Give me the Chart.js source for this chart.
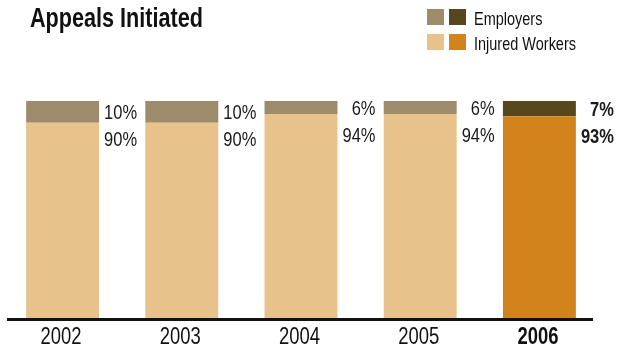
<!DOCTYPE html>
<html>
<head>
<meta charset="utf-8">
<title>Appeals Initiated</title>
<script src="https://cdn.jsdelivr.net/npm/chart.js@4.4.0/dist/chart.umd.min.js"></script>
<style>
  body { margin: 0; background: #ffffff; }
  #wrap { width: 618px; height: 353px; }
</style>
</head>
<body>
<div id="wrap"><canvas id="appealsChart" width="618" height="353"></canvas></div>
<script>
  // data
  var years = ['2002', '2003', '2004', '2005', '2006']
  var employers = [10, 10, 6, 6, 7]
  var injuredWorkers = [90, 90, 94, 94, 93]

  var FONT = "'Liberation Sans', Arial, sans-serif"

  // last year is highlighted with darker colours
  var employerColors = ['#9e8b6c', '#9e8b6c', '#9e8b6c', '#9e8b6c', '#58461c']
  var workerColors = ['#e8c28b', '#e8c28b', '#e8c28b', '#e8c28b', '#d2831b']

  // the original uses a condensed face, so squeeze text horizontally
  // factor = wanted width / measured width of a sample string
  function squeeze(ctx, font, sample, wanted) {
    ctx.font = font
    return wanted / ctx.measureText(sample).width
  }

  function narrowText(ctx, text, x, y, font, k, align) {
    ctx.save()
    ctx.font = font
    ctx.textAlign = align
    ctx.translate(x, y)
    ctx.scale(k, 1)
    ctx.fillText(text, 0, 0)
    ctx.restore()
  }

  //--------------------------------------
  //- TITLE, LEGEND, LABELS, X AXIS LINE -
  //--------------------------------------
  var decorPlugin = {
    id: 'decor',
    afterDraw: function (chart) {
      var ctx = chart.ctx
      var area = chart.chartArea
      ctx.save()
      ctx.fillStyle = '#111111'
      ctx.textBaseline = 'alphabetic'

      // title
      var titleFont = 'bold 28px ' + FONT
      var kTitle = squeeze(ctx, titleFont, 'Appeals Initiated', 173)
      narrowText(ctx, 'Appeals Initiated', 30, 27, titleFont, kTitle, 'left')

      // legend: two swatches per row (regular / highlighted year)
      var legFont = '19px ' + FONT
      var kLeg = squeeze(ctx, legFont, 'Injured Workers', 102)
      var rows = [
        { text: 'Employers', colors: [employerColors[0], employerColors[4]], y: 9, base: 25 },
        { text: 'Injured Workers', colors: [workerColors[0], workerColors[4]], y: 34, base: 49.5 }
      ]
      rows.forEach(function (r) {
        ctx.fillStyle = r.colors[0]
        ctx.fillRect(427, r.y, 17, 16)
        ctx.fillStyle = r.colors[1]
        ctx.fillRect(449, r.y, 17, 16)
        ctx.fillStyle = '#111111'
        narrowText(ctx, r.text, 474, r.base, legFont, kLeg, 'left')
      })

      // x axis line
      ctx.fillStyle = '#111111'
      ctx.fillRect(7, area.bottom, 586, 3)

      // percentage labels right of each bar, year labels below
      var empMeta = chart.getDatasetMeta(1)
      var pctFont = '20px ' + FONT
      var pctBold = 'bold 20px ' + FONT
      var kPct = squeeze(ctx, pctFont, '10%', 33)
      var yearFont = '23px ' + FONT
      var yearBold = 'bold 23px ' + FONT
      var kYear = squeeze(ctx, yearFont, '2002', 41)
      ctx.textBaseline = 'middle'
      empMeta.data.forEach(function (bar, i) {
        var hi = i === 4
        var yMid = (bar.y + bar.base) / 2 + 1.5
        ctx.fillStyle = '#1a1a1a'
        narrowText(ctx, employers[i] + '%', bar.x + 74.5, yMid, hi ? pctBold : pctFont, kPct, 'right')
        narrowText(ctx, injuredWorkers[i] + '%', bar.x + 74.5, yMid + 27, hi ? pctBold : pctFont, kPct, 'right')
        ctx.fillStyle = '#111111'
        narrowText(ctx, years[i], bar.x - 1.5, area.bottom + 20, hi ? yearBold : yearFont, kYear, 'center')
      })

      ctx.restore()
    }
  }

  //-------------
  //- BAR CHART -
  //-------------
  var appealsChart = new Chart(document.getElementById('appealsChart').getContext('2d'), {
    type: 'bar',
    data: {
      labels: years,
      datasets: [
        {
          label: 'Injured Workers',
          backgroundColor: workerColors,
          borderWidth: 0,
          categoryPercentage: 1,
          barPercentage: 0.612,
          data: injuredWorkers
        },
        {
          label: 'Employers',
          backgroundColor: employerColors,
          borderWidth: 0,
          categoryPercentage: 1,
          barPercentage: 0.612,
          data: employers
        }
      ]
    },
    options: {
      responsive: false,
      devicePixelRatio: 1,
      animation: false,
      layout: {
        padding: { top: 101, left: 3, right: 19, bottom: 35 }
      },
      plugins: {
        legend: { display: false },
        title: { display: false },
        tooltip: { enabled: false }
      },
      scales: {
        x: {
          stacked: true,
          grid: { display: false, drawTicks: false },
          border: { display: false },
          ticks: { display: false }
        },
        y: {
          stacked: true,
          display: false,
          min: 0,
          max: 100
        }
      }
    },
    plugins: [decorPlugin]
  })
</script>
</body>
</html>
